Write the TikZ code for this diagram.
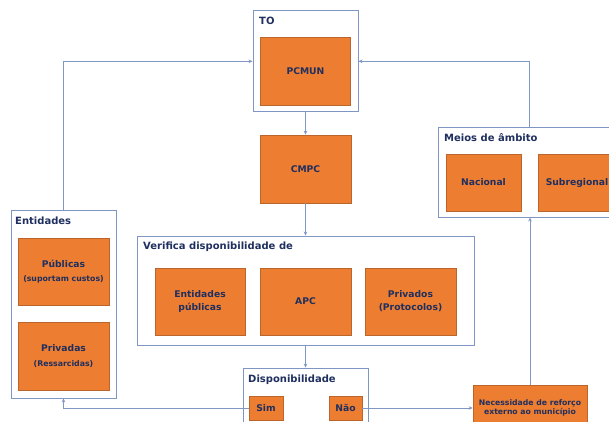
\documentclass[tikz,border=0pt]{standalone}
\usepackage{fontspec}
\setmainfont{DejaVu Sans}
\usetikzlibrary{arrows.meta}
\definecolor{orng}{HTML}{ED7D31}
\definecolor{orngdark}{HTML}{B9652C}
\definecolor{navy}{HTML}{1F2F5F}
\definecolor{boxblue}{HTML}{7F95C4}
\definecolor{lineblue}{HTML}{8197C3}
\tikzset{
  cbox/.style={draw=boxblue, line width=0.9pt, fill=white, inner sep=0pt},
  obox/.style={draw=orngdark, line width=0.6pt, fill=orng, text=navy, align=center, inner sep=0pt,
    font=\bfseries\fontsize{9.2}{13}\selectfont},
  lbl/.style={anchor=base west, text=navy, inner sep=0pt, font=\bfseries\fontsize{10}{11}\selectfont},
  conn/.style={draw=lineblue, line width=0.8pt, -{Stealth[length=4pt,width=3.5pt]}},
  small/.style={font=\bfseries\fontsize{7.7}{11}\selectfont}
}
\begin{document}
\begin{tikzpicture}[x=1pt,y=-1pt]
\useasboundingbox (0,0) rectangle (609,421);
\clip (0,0) rectangle (609,421);
\fill[white] (0,0) rectangle (609,421);

% TO
\node[cbox, minimum width=105pt, minimum height=101pt] (to) at (305.5,61.3) {};
\node[lbl] (tolbl) at (259,24.5) {TO};
\node[obox, minimum width=90pt, minimum height=67.6pt] (pcmun) at (305.5,71.5) {PCMUN};

% CMPC
\node[obox, minimum width=91pt, minimum height=68pt] (cmpc) at (305.5,169) {CMPC};

% Verifica
\node[cbox, minimum width=337pt, minimum height=109pt] (ver) at (305.5,290.5) {};
\node[lbl] (verlbl) at (143,249) {Verifica disponibilidade de};
\node[obox, minimum width=90pt, minimum height=67pt] (entpub) at (200,301.5) {Entidades\\públicas};
\node[obox, minimum width=91pt, minimum height=67pt] (apc) at (305.5,301.5) {APC};
\node[obox, minimum width=91pt, minimum height=67pt] (priv) at (410.5,301.5) {Privados\\(Protocolos)};

% Entidades
\node[cbox, minimum width=105pt, minimum height=188pt] (ent) at (63.5,304) {};
\node[lbl] (entlbl) at (15,224.5) {Entidades};
\node[obox, minimum width=91pt, minimum height=67pt] (pub) at (63.5,271.5)
  {Públicas\\[1pt]{\bfseries\fontsize{7.8}{9}\selectfont (suportam custos)}};
\node[obox, minimum width=91pt, minimum height=68pt] (prv) at (63.5,356)
  {Privadas\\[1.5pt]{\bfseries\fontsize{7.8}{9}\selectfont (Ressarcidas)}};

% Meios
\node[cbox, minimum width=182pt, minimum height=90pt] (meios) at (529,172) {};
\node[lbl] (meioslbl) at (444,141) {Meios de âmbito};
\node[obox, minimum width=75pt, minimum height=57pt] (nac) at (483.5,182.5) {Nacional};
\node[obox, minimum width=78pt, minimum height=57pt] (sub) at (577,182.5) {Subregional};

% Disponibilidade
\node[cbox, minimum width=125pt, minimum height=70pt] (disp) at (305.5,403) {};
\node[lbl] (displbl) at (248,382) {Disponibilidade};
\node[obox, minimum width=34pt, minimum height=24pt] (sim) at (266,408) {Sim};
\node[obox, minimum width=33pt, minimum height=24pt] (nao) at (345.5,408) {Não};

% Necessidade
\node[obox, small, minimum width=114pt, minimum height=46pt, text=navy] (nec) at (530,408)
  {Necessidade de reforço\\[-1.5pt]externo ao município};

% connectors
\draw[conn] (to.south) -- (cmpc.north);
\draw[conn] (cmpc.south) -- (ver.north);
\draw[conn] (ver.south) -- (disp.north);
\draw[conn] (ent.north) |- (to.west);
\draw[conn] (meios.north) |- (to.east);
\draw[conn] (sim.west) -| (ent.south);
\draw[conn] (nao.east) -- (nec.west);
\draw[conn] (nec.north) -- (nec.north |- meios.south);
\end{tikzpicture}
\end{document}
